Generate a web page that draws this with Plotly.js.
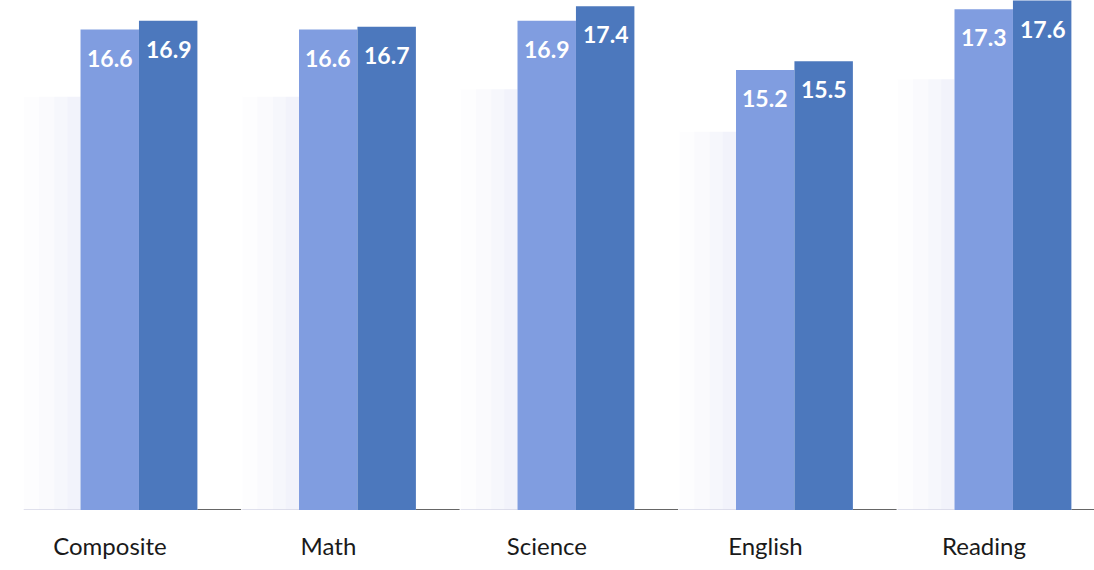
<!DOCTYPE html>
<html>
<head>
<meta charset="utf-8">
<script src="https://cdn.plot.ly/plotly-3.0.1.min.js"></script>
<style>
  html, body { margin: 0; padding: 0; background: #ffffff; }
  #chart { width: 1094px; height: 570px; }
</style>
</head>
<body>
<div id="chart"></div>
<script>
// Subject scores, two years side by side
const subjects = ["Composite", "Math", "Science", "English", "Reading"];
const scoresPrev = [16.6, 16.6, 16.9, 15.2, 17.3];
const scoresCurr = [16.9, 16.7, 17.4, 15.5, 17.6];

const lightBlue = "#809de0";
const darkBlue = "#4c78bd";

const groupWidth = 0.535;           // both bars together, in category units

const traces = [
  {
    type: "bar", x: subjects, y: scoresPrev, name: "Prior",
    marker: { color: lightBlue }, hoverinfo: "x+y"
  },
  {
    type: "bar", x: subjects, y: scoresCurr, name: "Current",
    marker: { color: darkBlue }, hoverinfo: "x+y"
  }
];

// Value labels inside the top of each bar
const annotations = [];
subjects.forEach((s, i) => {
  [[scoresPrev, -1], [scoresCurr, 1]].forEach(([arr, side]) => {
    annotations.push({
      x: s, y: arr[i], xref: "x", yref: "y",
      text: arr[i].toFixed(1), showarrow: false,
      xshift: side * 29.5, yshift: -28, yanchor: "middle",
      font: { family: "Lato, 'Open Sans', sans-serif", size: 23, color: "#ffffff", weight: 700 }
    });
  });
});

// Soft shading left of each group, and the baseline pieces between groups
const shapes = [];
subjects.forEach((s, i) => {
  const left = i - groupWidth / 2;
  const h = Math.min(scoresPrev[i], scoresCurr[i]);
  const steps = [[0.26, 0.025], [0.19, 0.03], [0.12, 0.035], [0.06, 0.04]];
  steps.forEach(([w, a]) => {
    shapes.push({ type: "rect", xref: "x", yref: "y", layer: "below",
      x0: left - w, x1: left, y0: 0, y1: h * 0.86,
      fillcolor: "rgba(150,160,220," + a + ")", line: { width: 0 } });
  });
  // faint line under the shading
  shapes.push({ type: "line", xref: "x", yref: "y", layer: "below",
    x0: left - 0.26, x1: left, y0: 0, y1: 0,
    line: { color: "#d4d6e6", width: 1.5 } });
  // dark baseline piece after the group
  const right = i + groupWidth / 2;
  shapes.push({ type: "line", xref: "x", yref: "y", layer: "below",
    x0: right, x1: i < subjects.length - 1 ? right + 0.2 : right + 0.5, y0: 0, y1: 0,
    line: { color: "#333333", width: 1.5 } });
});
shapes.push({ type: "line", xref: "x", yref: "y", layer: "below",
  x0: -0.7, x1: -0.52 - 0.26, y0: 0, y1: 0,
  line: { color: "#333333", width: 1.5 } });

const layout = {
  width: 1094, height: 570,
  margin: { l: 0, r: 0, t: 0, b: 60 },
  paper_bgcolor: "#ffffff", plot_bgcolor: "#ffffff",
  barmode: "group", bargap: 1 - groupWidth, bargroupgap: 0,
  showlegend: false,
  xaxis: {
    range: [-0.636, 4.371],
    showgrid: false, zeroline: false, showline: false,
    ticks: "", ticklabelshift: -29, ticklabelstandoff: 20,
    tickfont: { family: "Lato, 'Open Sans', sans-serif", size: 24, color: "#1a1a1a" },
    fixedrange: true
  },
  yaxis: {
    range: [0, 17.62], visible: false, fixedrange: true
  },
  annotations: annotations,
  shapes: shapes
};

Plotly.newPlot("chart", traces, layout, { displayModeBar: false, staticPlot: true });
</script>
</body>
</html>
